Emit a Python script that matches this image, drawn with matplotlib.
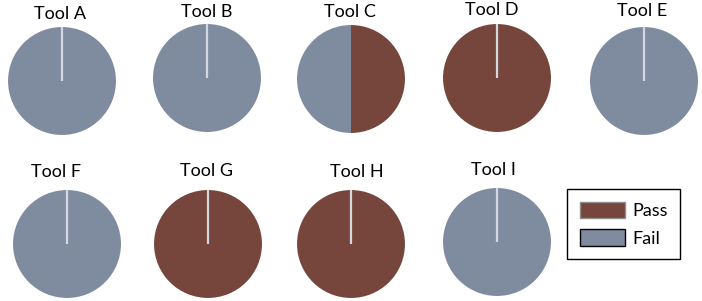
import matplotlib
matplotlib.use("Agg")
import matplotlib.pyplot as plt
from matplotlib.patches import Patch

# ---- data ----
tools = ["Tool A", "Tool B", "Tool C", "Tool D", "Tool E",
         "Tool F", "Tool G", "Tool H", "Tool I"]
pass_vals = [0, 0, 50, 100, 0, 0, 100, 100, 0]
fail_vals = [100, 100, 50, 0, 100, 100, 0, 0, 100]
series = ["Pass", "Fail"]

# ---- style / layout ----
PASS_C = "#76453B"
FAIL_C = "#7F8B9E"
LINE_C = "#D3D8E0"
W, H = 702, 301
R = 54.5
centers = [(62, 81), (207, 78), (351, 79), (497, 78), (644, 81),
           (67, 244), (208, 244), (351, 244), (497, 242)]
title_pos = [(60, 14), (207, 12), (350, 12), (492, 10), (642, 11),
             (56, 172), (207, 171), (357, 172), (493, 170)]

plt.rcParams["font.family"] = ["Lato", "DejaVu Sans"]
fig = plt.figure(figsize=(W / 100, H / 100), dpi=100)
fig.patch.set_facecolor("white")

for name, p, f, (cx, cy), (tx, ty) in zip(tools, pass_vals, fail_vals, centers, title_pos):
    ax = fig.add_axes([(cx - R) / W, (H - cy - R) / H, 2 * R / W, 2 * R / H])
    ax.pie([p, f], colors=[PASS_C, FAIL_C], startangle=90, counterclock=False,
           radius=1, wedgeprops=dict(linewidth=0))
    if p == 0 or f == 0:
        ax.plot([0, 0], [0, 1], color=LINE_C, lw=1.6, solid_capstyle="butt")
    ax.set_xlim(-1.01, 1.01)
    ax.set_ylim(-1.01, 1.01)
    ax.axis("off")
    fig.text(tx / W, 1 - ty / H, name, ha="center", va="center", fontsize=13,
             color="black")

handles = [Patch(facecolor=PASS_C, edgecolor="#8C8C8C", linewidth=1.0),
           Patch(facecolor=FAIL_C, edgecolor="black", linewidth=1.0)]
leg = fig.legend(handles, series, loc="upper left",
                 bbox_to_anchor=(567 / W, 1 - 189 / H),
                 fontsize=13, handlelength=2.5, handleheight=1.05,
                 handletextpad=0.4, labelspacing=0.55, borderpad=0.7,
                 borderaxespad=0, fancybox=False, framealpha=1,
                 edgecolor="black")
leg.get_frame().set_linewidth(1.0)

fig.savefig("out.png", dpi=100, facecolor="white")
